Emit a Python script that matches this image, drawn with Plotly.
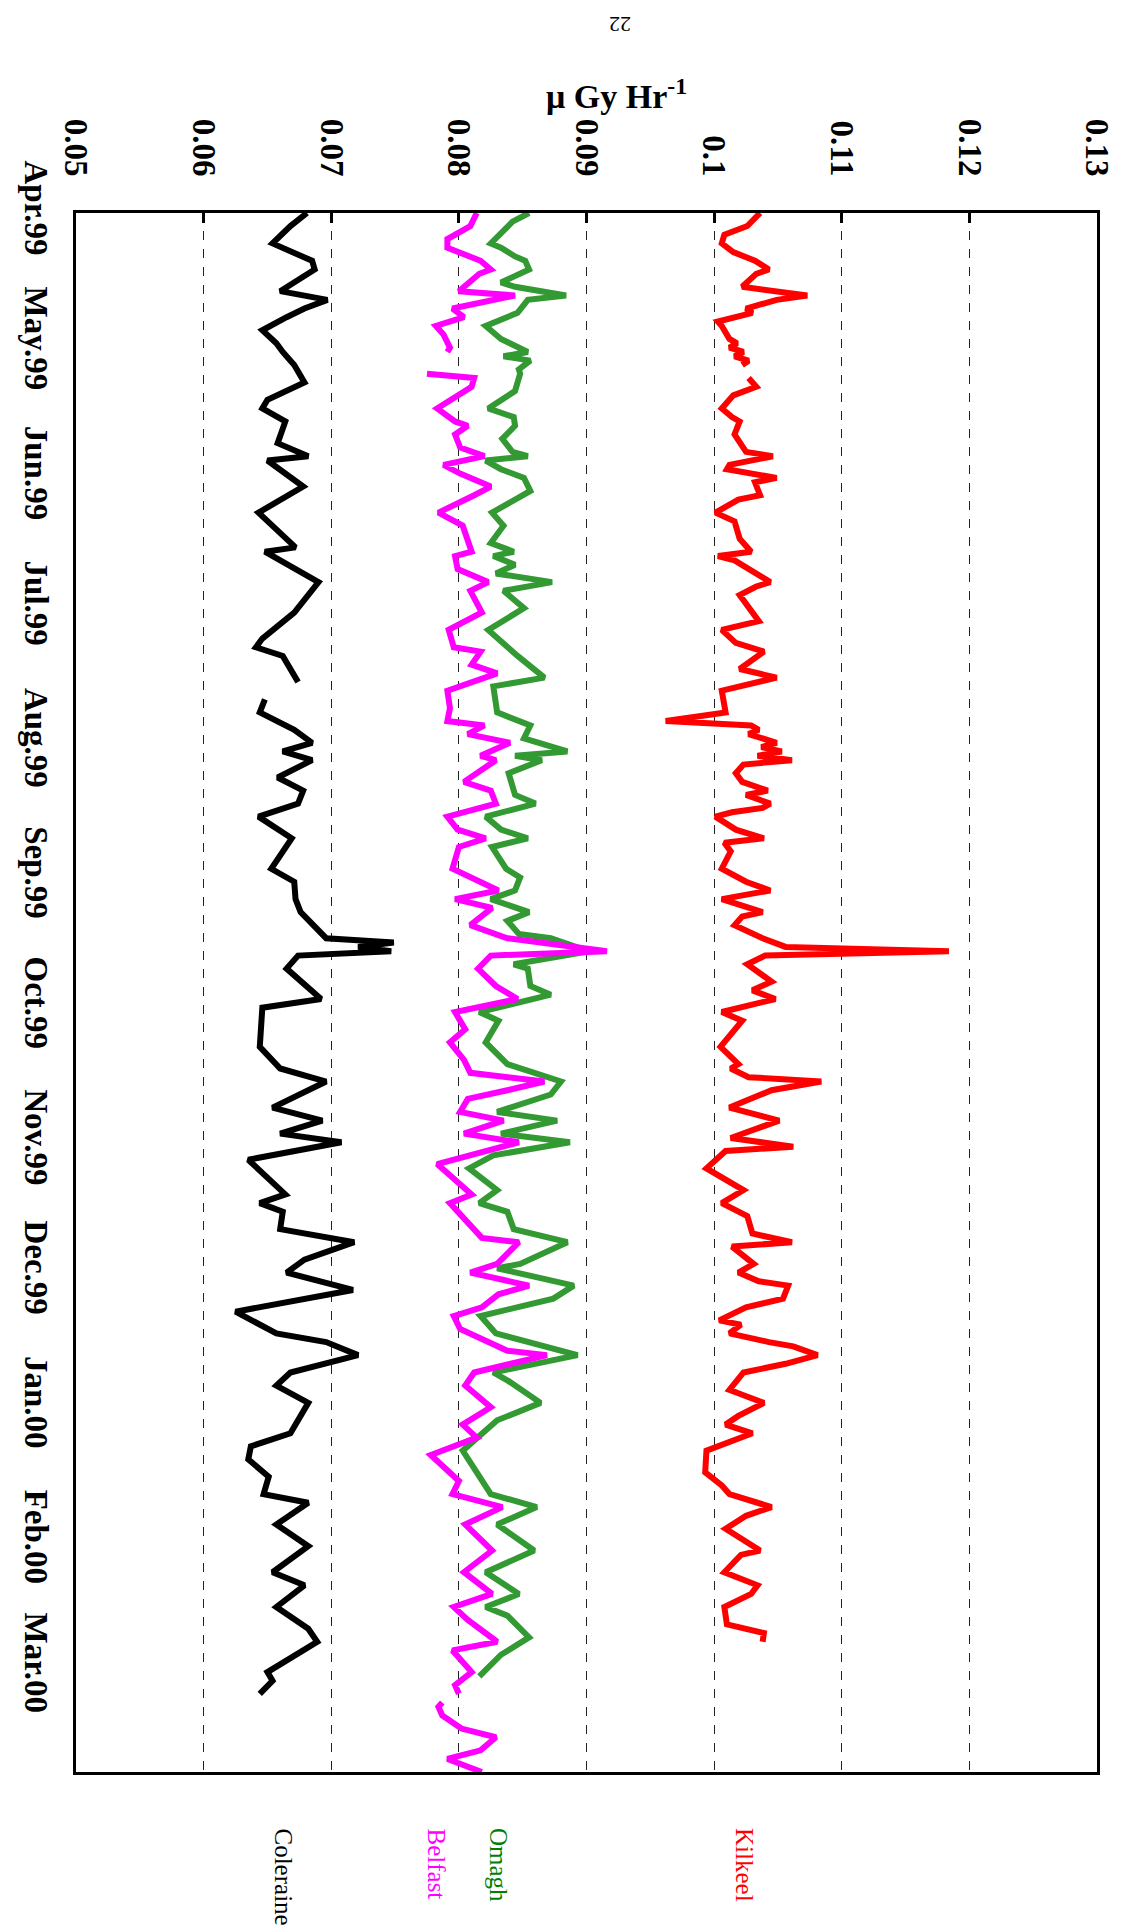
import pandas as pd
import plotly.graph_objects as go

# ---------------- data (day offsets from 1 Apr 1999, dose rate in µGy/h) -------------
base_date = "1999-04-01"

kilkeel_day = [0, 3, 5, 7, 9, 11, 13, 14, 17, 19, 20, 22, 23, 25, 26, 29, 30, 31, 32, 33, 34, 35, 36,
               38, 40, 42, 45, 47, 48, 51, 55, 56, 58, 59, 61, 62, 65, 66, 69, 71, 75, 78, 79, 80, 85, 86, 88,
               94, 96, 99, 101, 105, 107, 110, 115, 117, 118, 119, 120, 122, 123, 124, 125, 126, 127, 129, 131,
               133, 134, 136, 137, 138, 139, 142, 144, 145, 147, 151, 154, 156, 157, 158, 161, 162, 164, 167,
               169, 170, 171, 173, 177, 179, 181, 184, 186, 192, 196, 197, 199, 200, 202, 206, 209, 213, 215,
               216, 220, 222, 225, 228, 231, 235, 237, 238, 242, 244, 246, 247, 250, 252, 255, 256, 258, 260,
               261, 263, 265, 267, 271, 272, 274, 277, 279, 281, 285, 290, 293, 295, 298, 300, 303, 308, 309,
               313, 316, 318, 321, 325, 327, 329]
kilkeel_val = [0.1036, 0.1026, 0.1008, 0.1006, 0.1015, 0.1032, 0.1043, 0.1033, 0.1022, 0.1073, 0.1049,
               0.1025, 0.1030, 0.1003, 0.1006, 0.1012, 0.1018, 0.1012, 0.1023, 0.1016, 0.1027, 0.1022, None,
               0.1027, 0.1033, 0.1015, 0.1006, 0.1014, 0.1020, 0.1016, 0.1025, 0.1046, 0.1012, 0.1010, 0.1049,
               0.1032, 0.1036, 0.1019, 0.1001, 0.1016, 0.1020, 0.1029, 0.1003, 0.1016, 0.1044, 0.1033, 0.1020,
               0.1035, 0.1006, 0.1017, 0.1039, 0.1020, 0.1049, 0.1006, 0.1009, 0.0962, 0.1029, 0.1035, 0.1027,
               0.1049, 0.1037, 0.1053, 0.1034, 0.1061, 0.1023, 0.1017, 0.1022, 0.1042, 0.1025, 0.1044, 0.1038,
               0.1014, 0.1001, 0.1017, 0.1039, 0.1008, 0.1013, 0.1006, 0.1025, 0.1044, 0.1023, 0.1006, 0.1038,
               0.1022, 0.1016, 0.1038, 0.1056, 0.1184, 0.1040, 0.1026, 0.1045, 0.1030, 0.1048, 0.1006, 0.1022,
               0.1005, 0.1019, 0.1013, 0.1027, 0.1084, 0.1045, 0.1012, 0.1051, 0.1013, 0.1062, 0.1009, 0.0994,
               0.1006, 0.1023, 0.1006, 0.1026, 0.1030, 0.1061, 0.1014, 0.1031, 0.1019, 0.1035, 0.1058, 0.1054,
               0.1025, 0.1004, 0.1021, 0.1012, 0.1043, 0.1062, 0.1081, 0.1056, 0.1023, 0.1012, 0.1021, 0.1039,
               0.1019, 0.1009, 0.1030, 0.0994, 0.0993, 0.1006, 0.1012, 0.1045, 0.1025, 0.1009, 0.1036, 0.1021,
               0.1008, 0.1034, 0.1029, 0.1008, 0.1010, 0.1039, 0.1038]

omagh_day = [0, 2, 7, 8, 10, 11, 13, 16, 17, 19, 20, 23, 26, 29, 32, 33, 34, 36, 37, 41, 45, 47, 49, 52,
             55, 56, 57, 59, 61, 64, 69, 72, 76, 78, 79, 81, 83, 85, 87, 91, 96, 102, 107, 109, 115, 118, 121,
             124, 125, 126, 129, 134, 136, 139, 142, 144, 146, 151, 153, 156, 158, 161, 163, 166, 167, 170, 173,
             174, 178, 180, 184, 186, 191, 196, 200, 203, 207, 209, 212, 214, 217, 220, 225, 228, 230, 234, 237,
             242, 243, 247, 250, 254, 258, 261, 263, 267, 269, 274, 278, 285, 291, 295, 298, 302, 308, 313, 318,
             321, 323, 328, 332, 337]
omagh_val = [0.0855, 0.0842, 0.0825, 0.0833, 0.0844, 0.0852, 0.0855, 0.0833, 0.0844, 0.0884, 0.0854,
             0.0846, 0.0821, 0.0833, 0.0854, 0.0835, 0.0856, 0.0847, 0.0848, 0.0844, 0.0823, 0.0843, 0.0844,
             0.0834, 0.0842, 0.0854, 0.0821, 0.0833, 0.0851, 0.0856, 0.0826, 0.0835, 0.0825, 0.0843, 0.0827,
             0.0844, 0.0829, 0.0873, 0.0835, 0.0851, 0.0823, 0.0846, 0.0867, 0.0827, 0.0830, 0.0856, 0.0851,
             0.0885, 0.0844, 0.0865, 0.0839, 0.0844, 0.0860, 0.0821, 0.0833, 0.0854, 0.0826, 0.0837, 0.0848,
             0.0844, 0.0825, 0.0855, 0.0838, 0.0847, 0.0872, 0.0902, 0.0843, 0.0854, 0.0856, 0.0872, 0.0816,
             0.0831, 0.0821, 0.0838, 0.0880, 0.0872, 0.0830, 0.0877, 0.0833, 0.0887, 0.0827, 0.0808, 0.0830,
             0.0816, 0.0838, 0.0843, 0.0885, 0.0848, 0.0830, 0.0890, 0.0874, 0.0817, 0.0829, 0.0869, 0.0893,
             0.0827, 0.0839, 0.0864, 0.0830, 0.0803, 0.0817, 0.0825, 0.0861, 0.0830, 0.0859, 0.0821, 0.0847,
             0.0821, 0.0838, 0.0855, 0.0833, 0.0816]

belfast_day = [0, 3, 6, 8, 11, 13, 14, 18, 19, 21, 22, 24, 26, 28, 31, 32, 34, 37, 38, 40, 45, 48, 49, 51,
               54, 56, 58, 60, 62, 63, 65, 69, 72, 78, 79, 82, 85, 87, 92, 96, 100, 101, 104, 106, 110, 114,
               117, 118, 120, 122, 125, 126, 131, 133, 136, 139, 142, 144, 146, 151, 156, 158, 160, 164, 167,
               170, 171, 174, 178, 181, 184, 188, 191, 195, 198, 200, 202, 204, 207, 209, 212, 214, 219, 226,
               228, 236, 237, 242, 244, 247, 249, 252, 254, 257, 262, 263, 267, 270, 275, 279, 282, 286, 292,
               295, 298, 302, 308, 313, 318, 321, 324, 329, 331, 336, 339, 341, 342, 343, 344, 346, 349, 351,
               354, 356, 359]
belfast_val = [0.0814, 0.0809, 0.0791, 0.0791, 0.0817, 0.0825, 0.0816, 0.0800, 0.0844, 0.0812, 0.0795,
               0.0804, 0.0782, 0.0788, 0.0793, 0.0791, None, 0.0775, 0.0812, 0.0810, 0.0783, 0.0797, 0.0807,
               0.0797, 0.0801, 0.0820, 0.0788, 0.0801, 0.0817, 0.0825, 0.0812, 0.0784, 0.0803, 0.0810, 0.0797,
               0.0799, 0.0823, 0.0809, 0.0818, 0.0792, 0.0796, 0.0817, 0.0810, 0.0830, 0.0791, 0.0793, 0.0791,
               0.0820, 0.0807, 0.0840, 0.0817, 0.0829, 0.0804, 0.0825, 0.0829, 0.0791, 0.0799, 0.0821, 0.0800,
               0.0795, 0.0831, 0.0797, 0.0826, 0.0809, 0.0838, 0.0916, 0.0825, 0.0815, 0.0829, 0.0846, 0.0797,
               0.0805, 0.0793, 0.0804, 0.0809, 0.0867, 0.0838, 0.0807, 0.0801, 0.0835, 0.0804, 0.0847, 0.0783,
               0.0810, 0.0793, 0.0818, 0.0847, 0.0830, 0.0809, 0.0855, 0.0831, 0.0818, 0.0796, 0.0801, 0.0838,
               0.0869, 0.0812, 0.0805, 0.0825, 0.0803, 0.0814, 0.0778, 0.0800, 0.0795, 0.0834, 0.0805, 0.0826,
               0.0804, 0.0826, 0.0796, 0.0807, 0.0830, 0.0795, 0.0810, 0.0797, 0.0800, None, 0.0787, 0.0784,
               0.0787, 0.0802, 0.0829, 0.0817, 0.0791, 0.0818]

coleraine_day = [0, 3, 7, 11, 13, 18, 20, 22, 24, 27, 30, 32, 35, 39, 43, 45, 48, 53, 56, 57, 63, 69, 77,
                 78, 85, 92, 98, 100, 102, 108, 110, 112, 115, 119, 122, 124, 126, 130, 133, 136, 139, 144,
                 151, 154, 158, 161, 167, 168, 169, 170, 171, 174, 181, 183, 192, 197, 200, 206, 209, 212,
                 214, 218, 226, 228, 230, 234, 237, 241, 244, 248, 253, 258, 260, 263, 267, 270, 274, 281,
                 284, 287, 291, 295, 297, 302, 307, 313, 316, 321, 326, 329, 334, 336, 338, 341]
coleraine_val = [0.0681, 0.0668, 0.0654, 0.0685, 0.0687, 0.0660, 0.0697, 0.0679, 0.0665, 0.0646, 0.0657,
                 0.0662, 0.0671, 0.0679, 0.0650, 0.0646, 0.0664, 0.0658, 0.0682, 0.0650, 0.0678, 0.0643,
                 0.0672, 0.0648, 0.0690, 0.0671, 0.0646, 0.0641, 0.0662, 0.0674, None, 0.0648, 0.0644,
                 0.0671, 0.0685, 0.0662, 0.0685, 0.0658, 0.0678, 0.0674, 0.0643, 0.0669, 0.0653, 0.0671,
                 0.0672, 0.0676, 0.0696, 0.0749, 0.0721, 0.0747, 0.0674, 0.0665, 0.0692, 0.0646, 0.0644,
                 0.0660, 0.0696, 0.0654, 0.0693, 0.0660, 0.0708, 0.0635, 0.0664, 0.0644, 0.0662, 0.0660,
                 0.0718, 0.0679, 0.0665, 0.0717, 0.0625, 0.0657, 0.0696, 0.0721, 0.0668, 0.0657, 0.0682,
                 0.0668, 0.0637, 0.0635, 0.0651, 0.0647, 0.0682, 0.0657, 0.0682, 0.0654, 0.0679, 0.0657,
                 0.0682, 0.0689, 0.0662, 0.0650, 0.0654, 0.0644]

value_ticks = [0.05, 0.06, 0.07, 0.08, 0.09, 0.10, 0.11, 0.12, 0.13]
value_ticktext = ["0.05", "0.06", "0.07", "0.08", "0.09", "0.1", "0.11", "0.12", "0.13"]
month_ticks = ["1999-04-01", "1999-05-01", "1999-06-01", "1999-07-01", "1999-08-01", "1999-09-01",
               "1999-10-01", "1999-11-01", "1999-12-01", "2000-01-01", "2000-02-01", "2000-03-01"]
month_labels = ["Apr.99", "May.99", "Jun.99", "Jul.99", "Aug.99", "Sep.99",
                "Oct.99", "Nov.99", "Dec.99", "Jan.00", "Feb.00", "Mar.00"]
date_range = ["2000-03-25", "1999-04-01"]

series_names = ["Kilkeel", "Omagh", "Belfast", "Coleraine"]
line_colors = ["#FF0000", "#339933", "#FF00FF", "#000000"]
label_colors = ["#FF0000", "#008000", "#FF00FF", "#000000"]

# ---------------- figure -----------------------------------------------------------
def to_dates(days):
    return pd.Timestamp(base_date) + pd.to_timedelta(days, unit="D")

series = [(kilkeel_day, kilkeel_val), (omagh_day, omagh_val),
          (belfast_day, belfast_val), (coleraine_day, coleraine_val)]

fig = go.Figure()
for (days, vals), name, col in zip(series, series_names, line_colors):
    fig.add_trace(go.Scatter(x=vals, y=to_dates(days), mode="lines", name=name,
                             line=dict(color=col, width=6), showlegend=False))

# page body has an 8px margin: the figure is drawn offset by it
OFF = 8
W, H = 1128 - 2 * OFF, 1932 - OFF
L, R, T, B = 76 - OFF, 31 - OFF, 213 - OFF, 160
pw, ph = W - L - R, H - T - B

def px_x(page_x):
    return (page_x - OFF - L) / pw

def px_y(page_y):
    return (H - B - (page_y - OFF)) / ph

serif = "Liberation Serif, Times New Roman, serif"
bold_font = dict(family=serif, size=33, color="black", weight="bold")

fig.update_layout(
    width=W, height=H,
    margin=dict(l=L, r=R, t=T, b=B, autoexpand=False),
    paper_bgcolor="white", plot_bgcolor="white",
    showlegend=False,
    xaxis=dict(range=[0.05, 0.13], side="top", tickmode="array", tickvals=value_ticks,
               ticktext=value_ticktext, tickangle=90, tickfont=bold_font,
               showgrid=True, gridcolor="#222222", griddash="dash", gridwidth=1,
               showline=True, linecolor="black", linewidth=3, mirror=True,
               ticks="inside", ticklen=10, tickwidth=3, tickcolor="black",
               ticklabelstandoff=22, zeroline=False, automargin=False),
    yaxis=dict(type="date", range=date_range, tickmode="array", tickvals=month_ticks,
               ticktext=month_labels, tickangle=90, tickfont=bold_font,
               showgrid=False, showline=True, linecolor="black", linewidth=3, mirror=True,
               ticks="", ticklabelstandoff=8, zeroline=False, automargin=False),
)

annotations = [
    dict(text="<b>\u03bc Gy Hr<sup>-1</sup></b>", x=px_x(616), y=px_y(94), xref="paper", yref="paper",
         showarrow=False, xanchor="center", yanchor="middle",
         font=dict(family=serif, size=34, color="black")),
    dict(text="22", x=px_x(620), y=px_y(10), xref="paper", yref="paper", showarrow=False,
         textangle=180, xanchor="center", yanchor="top",
         font=dict(family=serif, size=22, color="black")),
]
label_x = [744, 498, 436, 283]
for name, col, lx in zip(series_names, label_colors, label_x):
    annotations.append(dict(text=name, x=px_x(lx), y=px_y(1826), xref="paper", yref="paper",
                            showarrow=False, textangle=90, xanchor="center", yanchor="top",
                            font=dict(family=serif, size=25, color=col)))
fig.update_layout(annotations=annotations)

fig.write_html("out.html")
